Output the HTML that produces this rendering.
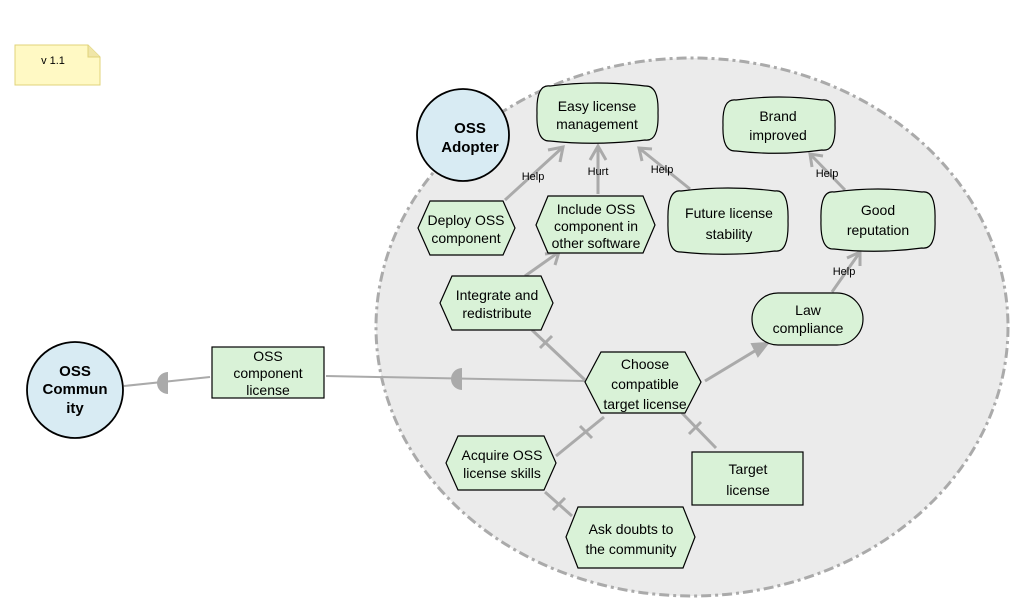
<!DOCTYPE html>
<html><head><meta charset="utf-8"><style>
html,body{margin:0;padding:0;background:#fff;}
svg{display:block;font-family:"Liberation Sans",sans-serif;}
.t{font-size:14px;fill:#000;text-anchor:middle;}
.l{font-size:11px;fill:#000;text-anchor:middle;}
.b{font-size:15px;font-weight:bold;fill:#000;text-anchor:middle;font-family:"Liberation Sans",sans-serif;}
.n{fill:#d9f2d7;stroke:#000;stroke-width:1.2;}
.k{stroke:#aaa;stroke-width:3;fill:none;}
</style></head><body>
<svg width="1011" height="606" viewBox="0 0 1011 606" xmlns="http://www.w3.org/2000/svg">
<ellipse cx="692" cy="327" rx="316" ry="269" fill="#ebebeb" stroke="#aaa" stroke-width="3" stroke-dasharray="10,4,3,4"/>
<path d="M15,45 H88 L100,57 V85 H15 Z" fill="#fff9c4" stroke="#e0d37a" stroke-width="1"/>
<path d="M88,45 V57 H100" fill="#f0e6a8" stroke="#e0d37a" stroke-width="1"/>
<text x="53" y="64" class="l">v 1.1</text>

<path class="k" d="M505,200 L563,147"/><path class="k" d="M548,150 L563,147 L560,162"/>
<path class="k" d="M598,194 L598,146"/><path class="k" d="M590,160 L598,146 L606,160"/>
<path class="k" d="M690,189 L639,148"/><path class="k" d="M652,149 L639,148 L642,161"/>
<path class="k" d="M845,190 L810,154"/><path class="k" d="M823,156 L810,154 L812,167"/>
<path class="k" d="M832,292 L860,252"/><path class="k" d="M847,258 L860,252 L860,266"/>
<path class="k" d="M705,381 L768,343"/><path d="M768,343 L752,344 L758,356 Z" fill="#aaa" stroke="#aaa" stroke-width="2"/>
<path class="k" d="M525,276 L559,252"/><path class="k" d="M545,254 L559,252 L555,265"/>
<path class="k" d="M532,330 L585,380"/><path class="k" d="M540,348 L552,336"/>
<path class="k" d="M556,456 L604,417"/><path class="k" d="M580,426 L592,438"/>
<path class="k" d="M545,492 L572,516"/><path class="k" d="M553,510 L565,498"/>
<path class="k" d="M682,413 L716,448"/><path class="k" d="M689,434 L701,422"/>
<path class="k" style="stroke-width:2" d="M326,376 L585,381"/>
<path d="M462,368 A10,10 0 0 0 462,390 Z" fill="#aaa"/>
<path class="k" style="stroke-width:2" d="M124,386 L210,377"/>
<path d="M168,372 A10,10 0 0 0 168,394 Z" fill="#aaa"/>

<text x="533" y="180" class="l">Help</text>
<text x="598" y="175" class="l">Hurt</text>
<text x="662" y="173" class="l">Help</text>
<text x="827" y="177" class="l">Help</text>
<text x="844" y="275" class="l">Help</text>

<circle cx="463" cy="135" r="46" fill="#d8ebf3" stroke="#000" stroke-width="1.8"/>
<text x="470" y="133" class="b">OSS</text><text x="470" y="152" class="b">Adopter</text>
<circle cx="75" cy="390" r="48" fill="#d8ebf3" stroke="#000" stroke-width="1.8"/>
<text x="75" y="376" class="b">OSS</text><text x="75" y="394" class="b">Commun</text><text x="75" y="413" class="b">ity</text>

<rect x="212" y="347" width="112" height="51" class="n"/>
<text x="268" y="361" class="t">OSS</text><text x="268" y="378" class="t">component</text><text x="268" y="395" class="t">license</text>
<rect x="692" y="452" width="111" height="53" class="n"/>
<text x="748" y="474" class="t">Target</text><text x="748" y="495" class="t">license</text>

<path class="n" d="M550,86 Q597,80 645,86 Q659,85 658,113 Q659,142 645,140 Q597,146 550,141 Q536,142 537,113 Q536,84 550,86 Z"/>
<text x="597" y="111" class="t">Easy license</text><text x="597" y="129" class="t">management</text>
<path class="n" d="M736,100 Q779,94 822,100 Q836,98 835,125 Q836,152 822,150 Q779,156 736,151 Q722,152 723,125 Q722,98 736,100 Z"/>
<text x="778" y="121" class="t">Brand</text><text x="778" y="140" class="t">improved</text>
<path class="n" d="M681,191 Q728,185 775,191 Q789,189 788,221 Q789,253 775,251 Q728,257 681,252 Q667,253 668,221 Q667,189 681,191 Z"/>
<text x="729" y="218" class="t">Future license</text><text x="729" y="239" class="t">stability</text>
<path class="n" d="M834,192 Q878,186 922,192 Q936,190 935,220 Q936,250 922,248 Q878,254 834,249 Q820,250 821,220 Q820,190 834,192 Z"/>
<text x="878" y="215" class="t">Good</text><text x="878" y="235" class="t">reputation</text>

<rect x="752" y="293" width="111" height="52" rx="26" class="n"/>
<text x="808" y="315" class="t">Law</text><text x="808" y="333" class="t">compliance</text>

<polygon class="n" points="418,228 430,201 503,201 515,228 503,255 430,255"/>
<text x="466" y="225" class="t">Deploy OSS</text><text x="466" y="243" class="t">component</text>
<polygon class="n" points="536,225 548,196 643,196 655,225 643,253 548,253"/>
<text x="596" y="214" class="t">Include OSS</text><text x="596" y="231" class="t">component in</text><text x="596" y="248" class="t">other software</text>
<polygon class="n" points="440,303 452,276 541,276 553,303 541,330 452,330"/>
<text x="497" y="300" class="t">Integrate and</text><text x="497" y="318" class="t">redistribute</text>
<polygon class="n" points="585,382 601,352 685,352 701,382 685,413 601,413"/>
<text x="645" y="369" class="t">Choose</text><text x="645" y="389" class="t">compatible</text><text x="645" y="409" class="t">target license</text>
<polygon class="n" points="446,463 458,436 544,436 556,463 544,490 458,490"/>
<text x="502" y="460" class="t">Acquire OSS</text><text x="502" y="478" class="t">license skills</text>
<polygon class="n" points="566,537 578,507 683,507 695,537 683,568 578,568"/>
<text x="631" y="534" class="t">Ask doubts to</text><text x="631" y="554" class="t">the community</text>
</svg>
</body></html>
